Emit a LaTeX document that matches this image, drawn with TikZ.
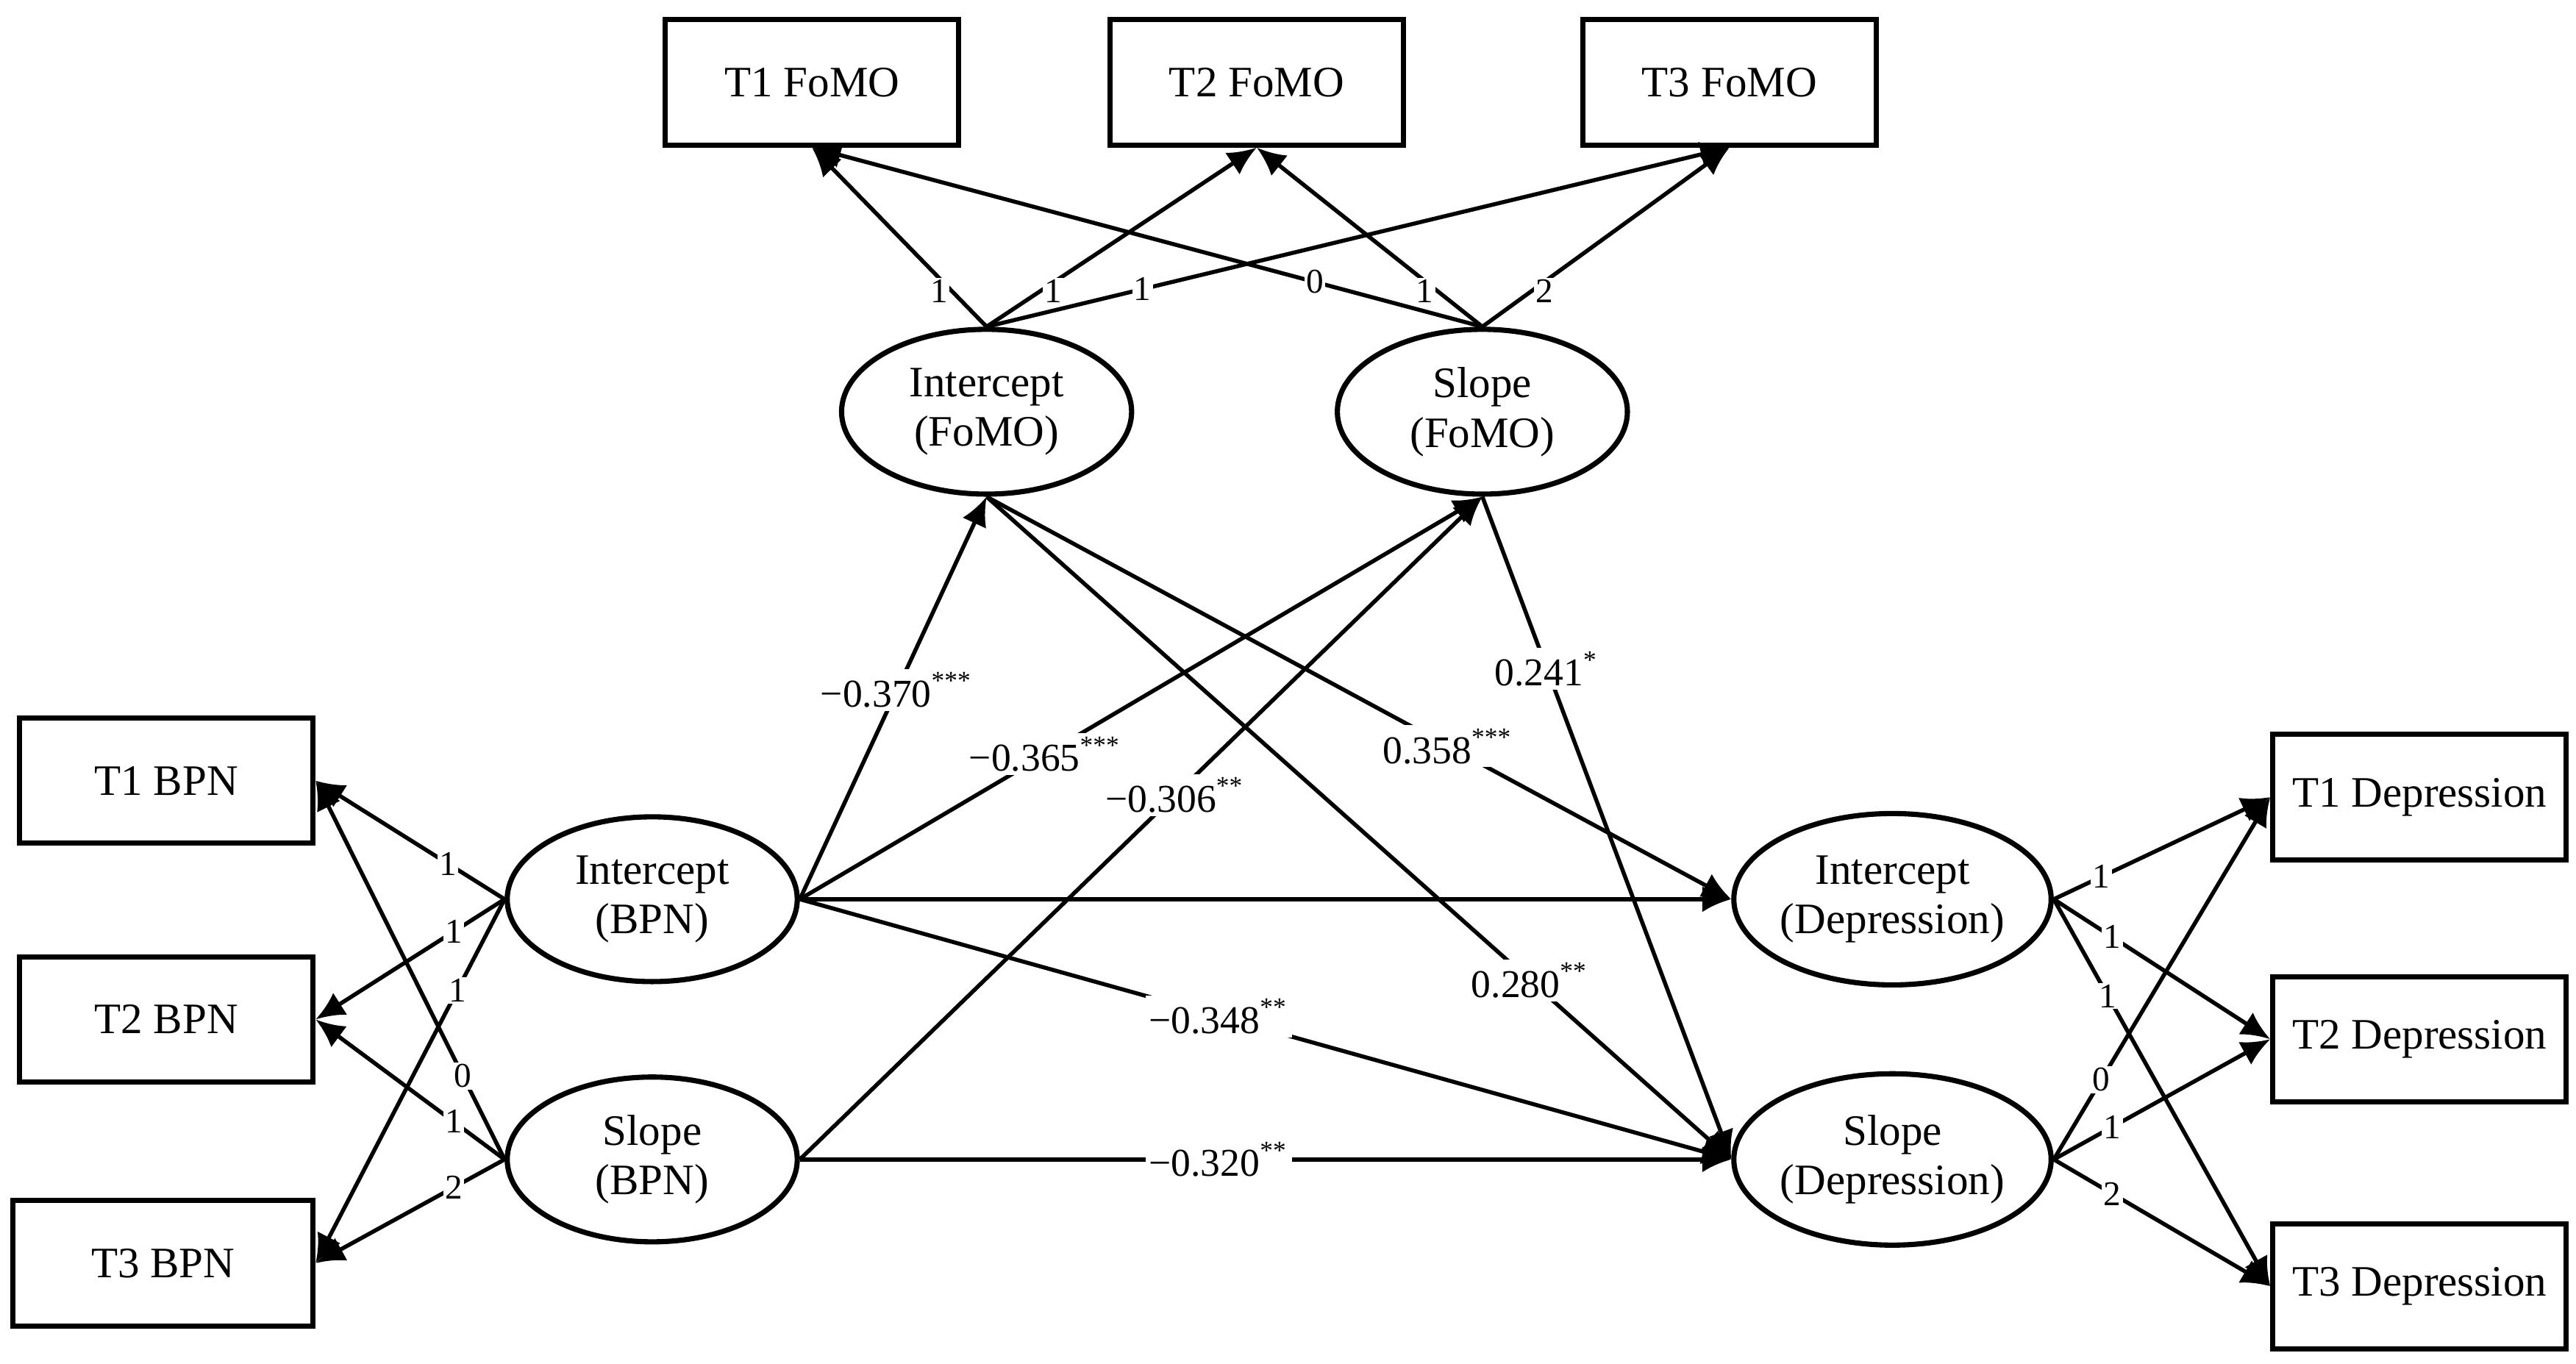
\documentclass[tikz,border=0pt]{standalone}
\usepackage{fontspec}
\setmainfont{Liberation Serif}
\usetikzlibrary{arrows.meta,shapes.geometric}
\newcommand{\stars}[1]{\textsuperscript{\fontsize{4.5}{5}\selectfont #1}}
\begin{document}
\begin{tikzpicture}[x=0.01cm,y=-0.01cm,
  box/.style={draw,line width=0.9pt,minimum width=1.78cm,minimum height=0.76cm,inner sep=0pt,font=\fontsize{7.5}{8}\selectfont},
  lat/.style={draw,ellipse,line width=0.9pt,minimum width=1.76cm,minimum height=1.0cm,inner sep=0pt,align=center,font=\fontsize{7.5}{8.6}\selectfont},
  arr/.style={-{Latex[length=5pt,width=4.5pt]},line width=0.7pt},
  lab/.style={fill=white,inner sep=0.6pt,font=\fontsize{6.8}{7}\selectfont},
  ld/.style={fill=white,inner sep=0.3pt,font=\fontsize{6}{6}\selectfont}]
\useasboundingbox (0,0) rectangle (1564,828);
\node[box] (f1) at (493,50) {T1 FoMO};
\node[box] (f2) at (763,50) {T2 FoMO};
\node[box] (f3) at (1050,50) {T3 FoMO};
\node[lat] (fi) at (599,250) {Intercept\\(FoMO)};
\node[lat] (fs) at (900,250) {Slope\\(FoMO)};
\node[box] (b1) at (101,474) {T1 BPN};
\node[box] (b2) at (101,619) {T2 BPN};
\node[box,minimum width=1.82cm] (b3) at (99,767) {T3 BPN};
\node[lat] (bi) at (396,546) {Intercept\\(BPN)};
\node[lat] (bs) at (396,704) {Slope\\(BPN)};
\node[lat,minimum height=1.04cm] (di) at (1149,546) {Intercept\\(Depression)};
\node[lat,minimum height=1.04cm] (ds) at (1149,704) {Slope\\(Depression)};
\node[box] (d1) at (1469,484) {T1 Depression};
\node[box] (d2) at (1469,631) {T2 Depression};
\node[box] (d3) at (1469,781) {T3 Depression};
% FoMO loadings
\draw[arr] (fi.north) -- (f1.south) node[ld,pos=0.2,left] {1};
\draw[arr] (fi.north) -- (f2.south) node[ld,pos=0.2,right] {1};
\draw[arr] (fi.north) -- (f3.south) node[ld,pos=0.21] {1};
\draw[arr] (fs.north) -- (f1.south) node[ld,pos=0.25] {0};
\draw[arr] (fs.north) -- (f2.south) node[ld,pos=0.2,left] {1};
\draw[arr] (fs.north) -- (f3.south) node[ld,pos=0.2,right] {2};
% BPN loadings
\draw[arr] (bi.west) -- (b1.east) node[ld,pos=0.3] {1};
\draw[arr] (bi.west) -- (b2.east) node[ld,pos=0.27] {1};
\draw[arr] (bi.west) -- (b3.east) node[ld,pos=0.25] {1};
\draw[arr] (bs.west) -- (b1.east) node[ld,pos=0.22] {0};
\draw[arr] (bs.west) -- (b2.east) node[ld,pos=0.27] {1};
\draw[arr] (bs.west) -- (b3.east) node[ld,pos=0.27] {2};
% Depression loadings
\draw[arr] (di.east) -- (d1.west) node[ld,pos=0.22] {1};
\draw[arr] (di.east) -- (d2.west) node[ld,pos=0.27] {1};
\draw[arr] (di.east) -- (d3.west) node[ld,pos=0.25] {1};
\draw[arr] (ds.east) -- (d1.west) node[ld,pos=0.22] {0};
\draw[arr] (ds.east) -- (d2.west) node[ld,pos=0.27] {1};
\draw[arr] (ds.east) -- (d3.west) node[ld,pos=0.27] {2};
% structural paths
\draw[arr] (bi.east) -- (fi.south) node[lab,pos=0.52] {−0.370\stars{***}};
\draw[arr] (bi.east) -- (fs.south) node[lab,pos=0.36] {−0.365\stars{***}};
\draw[arr] (bs.east) -- (fs.south) node[lab,pos=0.55] {−0.306\stars{**}};
\draw[arr] (fi.south) -- (di.west) node[lab,pos=0.62] {0.358\stars{***}};
\draw[arr] (fi.south) -- (ds.west) node[lab,pos=0.73] {0.280\stars{**}};
\draw[arr] (fs.south) -- (ds.west) node[lab,pos=0.26] {0.241\stars{*}};
\draw[arr] (bi.east) -- (di.west);
\draw[arr] (bi.east) -- (ds.west) node[lab,pos=0.45] {−0.348\stars{**}};
\draw[arr] (bs.east) -- (ds.west) node[lab,pos=0.45] {−0.320\stars{**}};
\end{tikzpicture}
\end{document}
